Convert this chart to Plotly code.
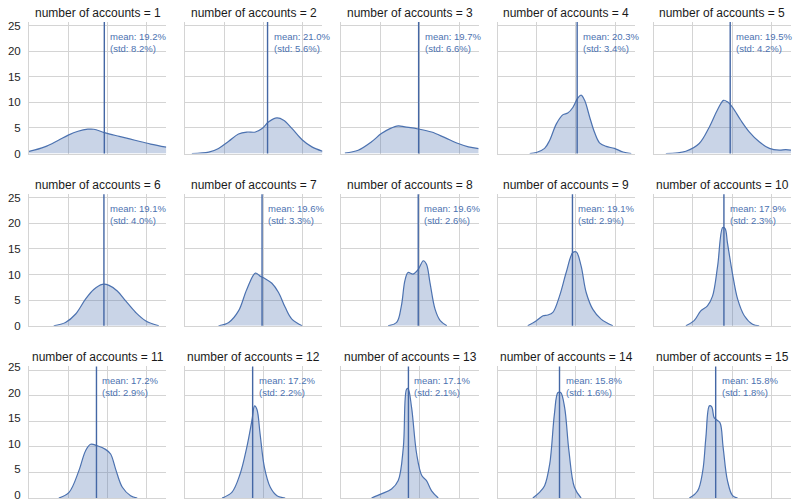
import plotly.graph_objects as go
from plotly.subplots import make_subplots

# ---- data ----
account_counts = [1, 2, 3, 4, 5, 6, 7, 8, 9, 10, 11, 12, 13, 14, 15]
mean_pct = [19.2, 21.0, 19.7, 20.3, 19.5, 19.1, 19.6, 19.6, 19.1, 17.9, 17.2, 17.2, 17.1, 15.8, 15.8]
std_pct = [8.2, 5.6, 6.6, 3.4, 4.2, 4.0, 3.3, 2.6, 2.9, 2.3, 2.9, 2.2, 2.1, 1.6, 1.8]

# KDE curves: x in percent, y = density
x01 = [0, 4, 7.5, 10, 12.5, 15, 16.5, 19.2, 23, 27, 31, 35]
y01 = [0.4, 1.3, 2.6, 3.6, 4.35, 4.75, 4.75, 4.1, 3.35, 2.6, 1.85, 1.25]
x02 = [1.7, 6, 8.5, 11.1, 13.6, 15.7, 17.9, 19.6, 21.3, 23.4, 25.1, 27.2, 29.8, 32.3, 35]
y02 = [0, 0.26, 1.0, 2.4, 3.8, 4.2, 4.2, 4.9, 6.2, 6.95, 6.5, 4.9, 2.7, 1.3, 0.45]
x03 = [0.9, 4.3, 7.7, 10.2, 12.4, 14.5, 16.2, 19.6, 23, 26.4, 29.8, 32.4, 35]
y03 = [0.1, 0.65, 2.3, 3.9, 4.87, 5.4, 5.2, 4.8, 4.2, 3.1, 1.95, 1.3, 0.97]
x04 = [8.2, 9.9, 12, 13.3, 15, 16.7, 17.9, 19.2, 20.5, 21.3, 22.2, 23.5, 24.7, 26, 27.7, 29.8, 32, 34.1]
y04 = [0, 0.2, 1.0, 2.6, 5.8, 7.6, 7.9, 9.0, 10.9, 11.4, 10.4, 7.1, 4.2, 2.1, 1.4, 1.0, 0.3, 0]
x05 = [3.1, 8.2, 11.6, 14.2, 16.3, 17.8, 18.8, 20.1, 22.2, 24.4, 26.9, 29.5, 32, 33.7, 35]
y05 = [0, 0.45, 1.95, 5.2, 8.6, 10.4, 10.1, 9.0, 6.5, 4.2, 2.3, 1.0, 0.65, 0.78, 0.65]
x06 = [6.3, 9.3, 11.9, 14.4, 16.5, 18.7, 20.4, 22.5, 24.6, 27.2, 29.7, 33.1]
y06 = [0, 0.65, 2.3, 5.2, 7.1, 8.1, 7.9, 6.8, 4.9, 2.6, 1.0, 0]
x07 = [8.5, 11.1, 13.6, 15.7, 17.9, 19.1, 20.4, 22.1, 23.8, 25.5, 27.2, 29.8]
y07 = [0, 0.65, 2.9, 7.1, 10.3, 9.7, 9.2, 8.3, 6.5, 3.6, 1.3, 0]
x08 = [11.9, 14.1, 15.3, 16.2, 17, 18.3, 19.6, 20.9, 21.7, 22.6, 23.9, 25.2, 26.9]
y08 = [0, 0.65, 3.9, 8.8, 10.4, 10.1, 11, 12.7, 12, 8.4, 3.2, 1.0, 0]
x09 = [7.7, 9.9, 11.6, 12.8, 14.1, 15.8, 17.5, 19.2, 20.1, 21.3, 22.6, 24.3, 26.4, 29.4]
y09 = [0, 1.0, 1.95, 2.1, 2.6, 5.8, 10.4, 14.3, 14.4, 11.7, 6.5, 3.2, 1.3, 0]
x10 = [8.2, 10.3, 12, 13.7, 15, 16.3, 17.6, 18.2, 18.8, 20.1, 21.4, 23.1, 25.2, 26.9]
y10 = [0, 1.0, 2.9, 3.9, 5.8, 11.7, 19.2, 19.0, 16.2, 10.1, 5.2, 1.95, 0.3, 0]
x11 = [7.6, 10.2, 12.7, 14.4, 15.7, 17.4, 19.5, 20.8, 22.1, 23.8, 25.9, 27.6]
y11 = [0, 1.1, 5.3, 9.2, 10.5, 10.2, 9.5, 8.6, 5.6, 2.1, 0.45, 0]
x12 = [9.4, 11.9, 14, 15.7, 17, 17.7, 18.3, 19.1, 20.2, 21.7, 23.4, 25.5]
y12 = [0, 1.1, 4.7, 9.9, 15.1, 18, 17.3, 12.5, 6.0, 2.1, 0.45, 0]
x13 = [7.7, 10.2, 12.8, 14.5, 15.8, 16.6, 17.0, 17.9, 19.2, 20.5, 21.7, 23, 24.7]
y13 = [0, 0.8, 1.75, 3.4, 9.9, 21.2, 21.4, 17.7, 8.6, 4.4, 3.4, 1.4, 0]
x14 = [9, 10.7, 12, 13.3, 14.5, 15.4, 16.1, 17.1, 18.2, 19.6, 21.3]
y14 = [0, 1.1, 2.4, 6.6, 16.4, 20.6, 20.6, 17.7, 9.2, 2.1, 0]
x15 = [9.1, 11.2, 12.5, 13.3, 14.2, 14.8, 15.4, 16.0, 16.9, 17.7, 18.8, 20.1, 21.4]
y15 = [0, 1.4, 5.3, 11.8, 18, 17.8, 15.7, 15.3, 14.7, 9.9, 3.4, 0.45, 0]

curves_x = [x01, x02, x03, x04, x05, x06, x07, x08, x09, x10, x11, x12, x13, x14, x15]
curves_y = [y01, y02, y03, y04, y05, y06, y07, y08, y09, y10, y11, y12, y13, y14, y15]

# ---- style ----
LINE = "#4467a5"
FILL = "rgba(76,114,176,0.30)"
TEXT_BLUE = "#4c72b0"
GRID = "#d4d4d4"
FONT = "Liberation Sans, Arial, sans-serif"
NROWS, NCOLS = 3, 5
W, H = 803, 504
ML, MR, MT, MB = 28.5, 11.5, 22, 6
pw = W - ML - MR
ph = H - MT - MB

fig = make_subplots(rows=NROWS, cols=NCOLS,
                    horizontal_spacing=18.9 / pw,
                    vertical_spacing=40.7 / ph)

for i, n in enumerate(account_counts):
    r = i // NCOLS + 1
    c = i % NCOLS + 1
    fig.add_trace(go.Scatter(x=curves_x[i], y=curves_y[i], mode="lines",
                             line=dict(color="#4c72b0", width=1.2, shape="spline", smoothing=1.0),
                             fill="tozeroy", fillcolor=FILL, showlegend=False,
                             hoverinfo="skip"), row=r, col=c)
    axn = "" if i == 0 else str(i + 1)
    fig.add_shape(type="line", xref="x" + axn, yref="y" + axn + " domain",
                  x0=mean_pct[i], x1=mean_pct[i], y0=0, y1=1,
                  line=dict(color=LINE, width=1.4), layer="above")
    fig.add_annotation(xref="x" + axn, yref="y" + axn,
                       x=mean_pct[i], y=24.4, xanchor="left", yanchor="top",
                       xshift=4, align="left", showarrow=False,
                       text=f"mean: {mean_pct[i]:.1f}%<br>(std: {std_pct[i]:.1f}%)",
                       font=dict(family=FONT, size=9.5, color=TEXT_BLUE))
    fig.add_annotation(xref="x" + axn + " domain", yref="y" + axn + " domain",
                       x=0.5, y=1, xanchor="center", yanchor="bottom", yshift=0,
                       showarrow=False, text=f"number of accounts = {n}",
                       font=dict(family=FONT, size=12, color="#1a1a1a"))

fig.update_xaxes(range=[0, 35], dtick=10, tick0=0, showticklabels=False,
                 showgrid=True, gridcolor=GRID, gridwidth=1, zeroline=False,
                 showline=True, linecolor=GRID, linewidth=1, ticks="",
                 automargin=False)
fig.update_yaxes(range=[0, 25.7], dtick=5, tick0=0, showgrid=True, gridcolor=GRID,
                 gridwidth=1, zeroline=False, showline=True, linecolor=GRID,
                 linewidth=1, ticks="", showticklabels=False, automargin=False)
fig.update_yaxes(showticklabels=True, col=1,
                 tickfont=dict(family=FONT, size=11.5, color="#262626"),
                 ticklabelstandoff=5, ticklabeloverflow="allow")
# bottom-left axis: nudge labels up slightly so the "0" stays inside the page
fig.update_yaxes(ticklabelshift=-3, row=3, col=1)

fig.update_layout(width=W, height=H, margin=dict(l=ML, r=MR, t=MT, b=MB),
                  paper_bgcolor="white", plot_bgcolor="white",
                  font=dict(family=FONT), hovermode=False)

fig.write_html("out.html", config={"displayModeBar": False, "staticPlot": True},
               post_script="document.body.style.margin='0';document.body.style.overflow='hidden';")
